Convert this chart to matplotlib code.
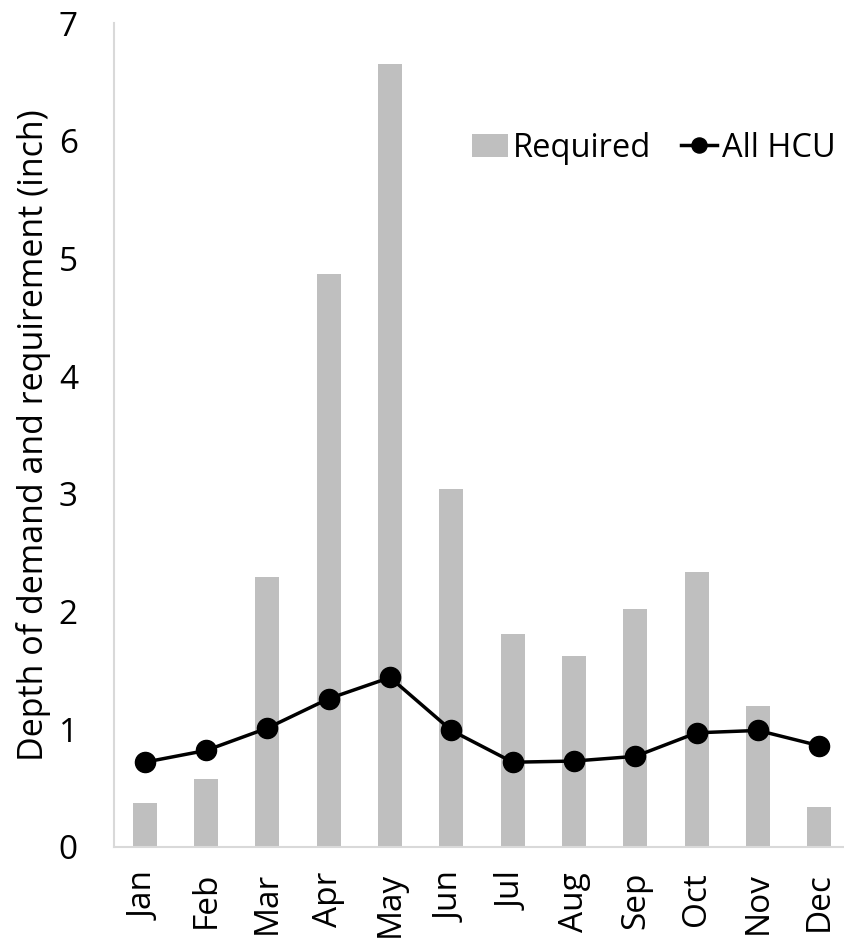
import numpy as np
import matplotlib
matplotlib.use('Agg')
import matplotlib.pyplot as plt

months = ['Jan', 'Feb', 'Mar', 'Apr', 'May', 'Jun',
          'Jul', 'Aug', 'Sep', 'Oct', 'Nov', 'Dec']
required = [0.37, 0.58, 2.29, 4.87, 6.65, 3.04, 1.81, 1.62, 2.02, 2.34, 1.20, 0.34]
all_hcu = [0.72, 0.82, 1.01, 1.26, 1.44, 0.99, 0.72, 0.73, 0.77, 0.97, 0.99, 0.86]
yticks = [0, 1, 2, 3, 4, 5, 6, 7]

plt.rcParams['font.family'] = ['Open Sans', 'DejaVu Sans']

fig = plt.figure(figsize=(8.45, 9.39), dpi=100)
ax = fig.add_axes([0.135, 0.098, 0.871, 0.8775])

x = np.arange(len(months))
bars = ax.bar(x, required, width=0.39, color='#bfbfbf', label='Required', zorder=1)
line, = ax.plot(x, all_hcu, color='black', lw=2.5, marker='o', ms=14.5,
                label='All HCU', zorder=3)

ax.set_xlim(-0.5, 11.5)
ax.set_ylim(0, 7)
ax.set_yticks(yticks)
ax.set_xticks(x)
ax.set_xticklabels(months, rotation=90)
ax.tick_params(axis='both', length=0, labelsize=24)
ax.tick_params(axis='y', pad=26)
ax.tick_params(axis='x', pad=18)

for s in ['top', 'right']:
    ax.spines[s].set_visible(False)
for s in ['left', 'bottom']:
    ax.spines[s].set_color('#d9d9d9')
    ax.spines[s].set_linewidth(1.5)

ax.set_ylabel('Depth of demand and requirement (inch)', fontsize=24.5, labelpad=6)

ax.legend([bars, line], ['Required', 'All HCU'], loc='center right',
          bbox_to_anchor=(1.02, 0.848), ncol=2,
          frameon=False, fontsize=23.5, handlelength=1.1, handletextpad=0.15,
          columnspacing=0.9, markerscale=0.75)

fig.savefig('out.png', dpi=100)
